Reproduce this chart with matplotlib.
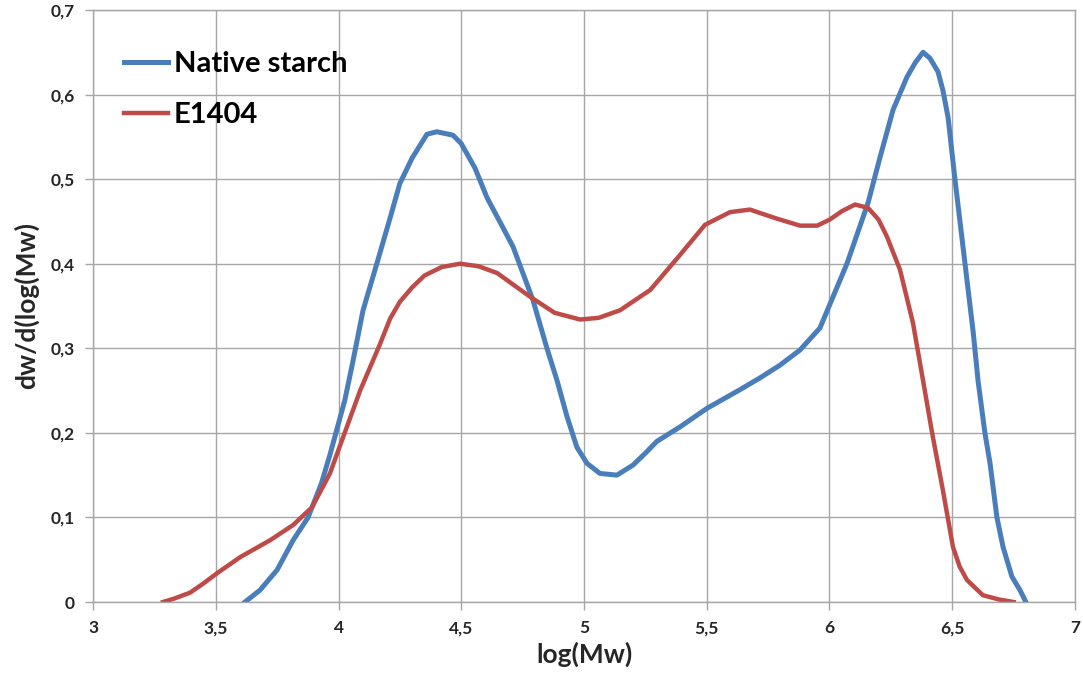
import matplotlib
matplotlib.use('Agg')
import matplotlib.pyplot as plt
from matplotlib.ticker import FuncFormatter, MultipleLocator

# values (log(Mw), dw/dlog(Mw))
native_x = [3.619, 3.68, 3.75, 3.815, 3.876, 3.93, 3.965, 4.026, 4.059, 4.10, 4.157, 4.21,
            4.25, 4.30, 4.36, 4.40, 4.466, 4.50, 4.556, 4.605, 4.66, 4.711, 4.792, 4.849, 4.89,
            4.93, 4.971, 5.012, 5.065, 5.134, 5.2, 5.25, 5.297, 5.391, 5.501, 5.635, 5.717,
            5.798, 5.88, 5.961, 6.071, 6.157, 6.206, 6.259, 6.316, 6.35, 6.381, 6.409, 6.442,
            6.462, 6.483, 6.511, 6.552, 6.585, 6.605, 6.633, 6.654, 6.682, 6.707, 6.743, 6.776, 6.80]
native_y = [0.0, 0.014, 0.038, 0.073, 0.10, 0.14, 0.174, 0.239, 0.285, 0.345, 0.401, 0.454,
            0.495, 0.525, 0.553, 0.556, 0.552, 0.542, 0.513, 0.478, 0.448, 0.42, 0.357, 0.30, 0.262,
            0.22, 0.183, 0.164, 0.152, 0.150, 0.162, 0.176, 0.19, 0.207, 0.229, 0.251, 0.265,
            0.28, 0.298, 0.324, 0.40, 0.472, 0.526, 0.582, 0.621, 0.638, 0.65, 0.643, 0.627,
            0.605, 0.573, 0.50, 0.40, 0.32, 0.262, 0.20, 0.164, 0.10, 0.065, 0.03, 0.014, 0.0]

e1404_x = [3.285, 3.33, 3.395, 3.45, 3.505, 3.599, 3.721, 3.815, 3.892, 3.965, 4.0, 4.088,
           4.169, 4.21, 4.25, 4.30, 4.35, 4.42, 4.495, 4.57, 4.646, 4.78, 4.88, 4.984, 5.06,
           5.147, 5.27, 5.39, 5.493, 5.595, 5.676, 5.778, 5.88, 5.95, 6.0, 6.05, 6.104, 6.157,
           6.2, 6.234, 6.287, 6.34, 6.381, 6.418, 6.462, 6.503, 6.53, 6.56, 6.625, 6.69, 6.75]
e1404_y = [0.0, 0.004, 0.011, 0.022, 0.034, 0.053, 0.073, 0.091, 0.112, 0.152, 0.18, 0.25,
           0.305, 0.335, 0.355, 0.372, 0.386, 0.396, 0.40, 0.397, 0.389, 0.361, 0.342, 0.334, 0.336,
           0.345, 0.369, 0.41, 0.446, 0.461, 0.464, 0.454, 0.445, 0.445, 0.452, 0.462, 0.47, 0.466,
           0.452, 0.432, 0.393, 0.33, 0.262, 0.20, 0.132, 0.065, 0.042, 0.026, 0.008, 0.003, 0.0]

BLUE = '#4A7EBB'
RED = '#BE4B48'
GRID = '#A6A6A6'
INK = '#262626'

plt.rcParams['font.family'] = ['Lato', 'DejaVu Sans']

fig = plt.figure(figsize=(10.83, 6.79), dpi=100)
ax = fig.add_axes([0.0859, 0.1134, 0.9067, 0.8719])

ax.plot(native_x, native_y, color=BLUE, lw=3.6, label='Native starch', solid_joinstyle='round')
ax.plot(e1404_x, e1404_y, color=RED, lw=3.2, label='E1404', solid_joinstyle='round')

ax.set_xlim(3, 7)
ax.set_ylim(0, 0.7)
ax.xaxis.set_major_locator(MultipleLocator(0.5))
ax.yaxis.set_major_locator(MultipleLocator(0.1))
comma = FuncFormatter(lambda v, p: f"{v:g}".replace('.', ','))
ax.xaxis.set_major_formatter(comma)
ax.yaxis.set_major_formatter(comma)

ax.grid(True, color=GRID, lw=1)
ax.set_axisbelow(True)
for s in ax.spines.values():
    s.set_color(GRID)
    s.set_linewidth(1)
ax.tick_params(length=6, color=GRID, width=1, labelsize=12.5, pad=7)
for lab in ax.get_xticklabels() + ax.get_yticklabels():
    lab.set_fontweight('bold')
    lab.set_color(INK)

ax.set_xlabel('log(Mw)', fontsize=19, fontweight='bold', color=INK, labelpad=4)
ax.set_ylabel('dw/d(log(Mw)', fontsize=19, fontweight='bold', color=INK, labelpad=8)

ax.legend(loc='upper left', bbox_to_anchor=(0.005, 0.975), frameon=False,
          prop={'size': 21, 'weight': 'bold'}, handlelength=1.5, handletextpad=0.2,
          labelspacing=0.85)

fig.savefig('out.png', facecolor='white')
